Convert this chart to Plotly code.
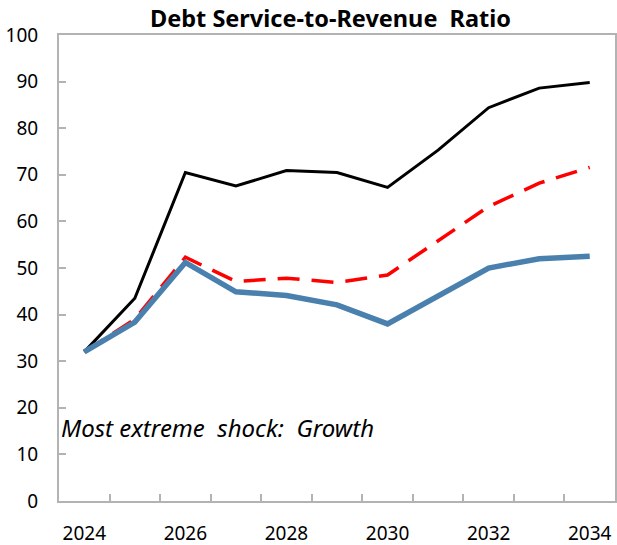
import plotly.graph_objects as go

years = list(range(2024, 2035))
baseline = [32.0, 38.4, 51.2, 44.9, 44.1, 42.1, 38.0, 44.0, 50.0, 52.0, 52.5]
historical = [32.0, 39.0, 52.3, 47.1, 47.8, 46.9, 48.5, 55.9, 63.2, 68.2, 71.6]
extreme_shock = [32.0, 43.5, 70.5, 67.6, 70.9, 70.5, 67.3, 75.3, 84.4, 88.6, 89.8]
xtick_labels = ["2024", "2026", "2028", "2030", "2032", "2034"]
ytick_vals = [0, 10, 20, 30, 40, 50, 60, 70, 80, 90, 100]

FONT = "Noto Sans"
GRAY = "#b3b3b3"

fig = go.Figure()
fig.add_trace(go.Scatter(x=years, y=extreme_shock, mode="lines",
                         line=dict(color="black", width=3), name="Most extreme shock"))
fig.add_trace(go.Scatter(x=years, y=historical, mode="lines",
                         line=dict(color="#ff0000", width=3.5, dash="22px,12px"), name="Historical"))
fig.add_trace(go.Scatter(x=years, y=baseline, mode="lines",
                         line=dict(color="#4a80ad", width=5.5), name="Baseline"))

fig.update_layout(
    width=617, height=545,
    margin=dict(l=59, r=2, t=35, b=44),
    paper_bgcolor="white", plot_bgcolor="white",
    showlegend=False,
    font=dict(family=FONT, size=19, color="black"),
)

fig.update_xaxes(
    range=[2023.5, 2034.5], automargin=False,
    tickmode="array", tickvals=[int(v) for v in xtick_labels], ticktext=xtick_labels,
    ticks="", showgrid=False, zeroline=False,
    showline=True, linecolor=GRAY, linewidth=2, mirror=True,
    ticklabelstandoff=14,
    minor=dict(tickmode="array", tickvals=[y + 0.5 for y in years[:-1]],
               ticks="inside", ticklen=7, tickcolor=GRAY, tickwidth=1.5, showgrid=False),
)
fig.update_yaxes(
    range=[0, 100], tickmode="array", tickvals=ytick_vals, automargin=False,
    ticks="inside", ticklen=7, tickcolor=GRAY, tickwidth=1.5,
    showgrid=False, zeroline=False,
    showline=True, linecolor=GRAY, linewidth=2, mirror=True,
    ticklabelstandoff=15,
)

fig.add_annotation(text="<b>Debt Service-to-Revenue\u00a0 Ratio</b>", xref="paper", yref="paper",
                   x=0.489, y=1.0375, yanchor="middle", xanchor="center",
                   showarrow=False, font=dict(family=FONT, size=23.5, color="black"))
fig.add_annotation(text="<i>Most extreme\u00a0 shock:\u00a0 Growth</i>", xref="paper", yref="y",
                   x=0.0, y=15.7, xanchor="left", yanchor="middle",
                   showarrow=False, font=dict(family=FONT, size=24, color="black"))

fig.write_html("out.html", config={"displayModeBar": False},
               post_script="document.body.style.margin='0';")
